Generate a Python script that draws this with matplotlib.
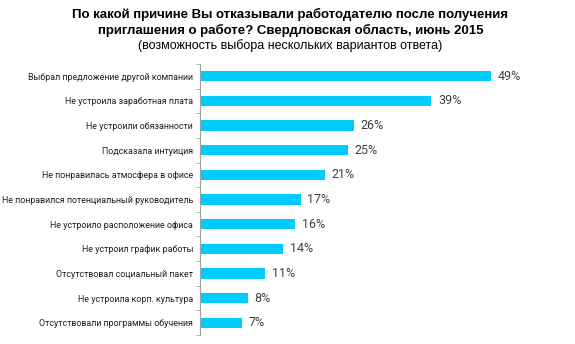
import numpy as np
import matplotlib
matplotlib.use("Agg")
from matplotlib import pyplot as plt

categories = [
    "Выбрал предложение другой компании",
    "Не устроила заработная плата",
    "Не устроили обязанности",
    "Подсказала интуиция",
    "Не понравилась атмосфера в офисе",
    "Не понравился потенциальный руководитель",
    "Не устроило расположение офиса",
    "Не устроил график работы",
    "Отсутствовал социальный пакет",
    "Не устроила корп. культура",
    "Отсутствовали программы обучения",
]
values = [49, 39, 26, 25, 21, 17, 16, 14, 11, 8, 7]

fig = plt.figure(figsize=(5.75, 3.44), dpi=100)
ax = fig.add_axes([0.348, 0.026, 0.619, 0.788])

y = np.arange(len(categories))
ax.barh(y, values, height=0.42, color="#00CCFF")
for yi, v in zip(y, values):
    ax.text(v + 1.1, yi, f"{v}%", va="center", ha="left",
            fontsize=9, color="#404040", family="Roboto")

ax.set_ylim(len(categories) - 0.5, -0.5)
ax.set_xlim(0, 60)
ax.set_yticks(y)
ax.set_yticklabels(categories, fontsize=6.4, family="Roboto", color="#202020")
ax.set_yticks(np.arange(len(categories) + 1) - 0.5, minor=True)
ax.tick_params(axis="y", which="major", length=0, pad=5)
ax.tick_params(axis="y", which="minor", length=3, color="#A0A0A0", direction="out")
ax.set_xticks([])
for s in ["top", "right", "bottom"]:
    ax.spines[s].set_visible(False)
ax.spines["left"].set_color("#A0A0A0")

fig.text(0.505, 0.958, "По какой причине Вы отказывали работодателю после получения",
         ha="center", va="center", fontsize=9.5, weight="bold", family="Liberation Sans")
fig.text(0.505, 0.912, "приглашения о работе? Свердловская область, июнь 2015",
         ha="center", va="center", fontsize=9.5, weight="bold", family="Liberation Sans")
fig.text(0.505, 0.868, "(возможность выбора нескольких вариантов ответа)",
         ha="center", va="center", fontsize=9, family="Liberation Sans")

fig.savefig("out.png", dpi=100)
